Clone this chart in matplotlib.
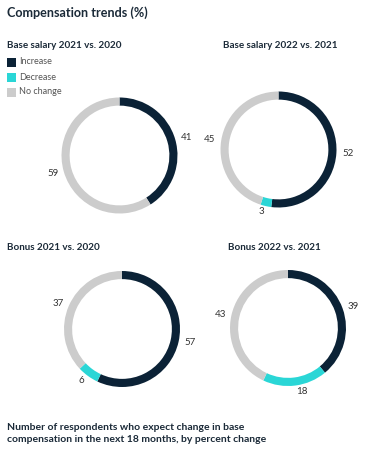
import matplotlib
matplotlib.use("Agg")

import matplotlib.pyplot as plt
from matplotlib.patches import Rectangle

# data
titles = ["Base salary 2021 vs. 2020", "Base salary 2022 vs. 2021",
          "Bonus 2021 vs. 2020", "Bonus 2022 vs. 2021"]
categories = ["Increase", "Decrease", "No change"]
increase = [41, 52, 57, 39]
decrease = [0, 3, 6, 18]
no_change = [59, 45, 37, 43]

colors = ["#0b2236", "#2ad6d6", "#cccccc"]
DARK = "#1b2a38"
GREY = "#555555"

W, H = 369, 450
plt.rcParams["font.family"] = ["Lato", "DejaVu Sans"]

fig = plt.figure(figsize=(W / 100, H / 100), dpi=100)
fig.patch.set_facecolor("white")


def fx(x):
    return x / W


def fy(y):
    return 1 - y / H


fig.text(fx(7), fy(13), "Compensation trends (%)", fontsize=9.1, fontweight="bold",
         color=DARK, va="center", ha="left")

# donut layout: centres in pixels, radius in pixels
centres = [(119.5, 155.5), (278.5, 149.5), (122, 329), (288, 328)]
title_pos = [(7, 45), (223, 45), (7, 247), (228, 247)]
R = 58
BOX = 170

for i, title in enumerate(titles):
    cx, cy = centres[i]
    ax = fig.add_axes([fx(cx - BOX / 2), fy(cy + BOX / 2), BOX / W, BOX / H])
    vals = [increase[i], decrease[i], no_change[i]]
    labels = [str(v) if v > 0 else "" for v in vals]
    ax.pie(vals, colors=colors, startangle=90, counterclock=False,
           labels=labels, labeldistance=1.1,
           wedgeprops=dict(width=0.14, edgecolor="none"),
           textprops=dict(fontsize=7, color="#333333"))
    L = BOX / 2 / R
    ax.set_xlim(-L, L)
    ax.set_ylim(-L, L)
    ax.set_aspect("equal")
    ax.axis("off")
    tx, ty = title_pos[i]
    fig.text(fx(tx), fy(ty), title, fontsize=7.1, fontweight="bold",
             color=DARK, va="center", ha="left")

# legend
for j, cat in enumerate(categories):
    y = 62 + j * 15
    fig.patches.append(Rectangle((fx(7), fy(y + 4.5)), 8.5 / W, 8.5 / H,
                                 transform=fig.transFigure, facecolor=colors[j],
                                 edgecolor="none"))
    fig.text(fx(19), fy(y), cat, fontsize=6.5, color=GREY, va="center", ha="left")

fig.text(fx(7), fy(427), "Number of respondents who expect change in base",
         fontsize=7.5, fontweight="bold", color=DARK, va="center", ha="left")
fig.text(fx(7), fy(440), "compensation in the next 18 months, by percent change",
         fontsize=7.5, fontweight="bold", color=DARK, va="center", ha="left")

fig.savefig("out.png", dpi=100)
